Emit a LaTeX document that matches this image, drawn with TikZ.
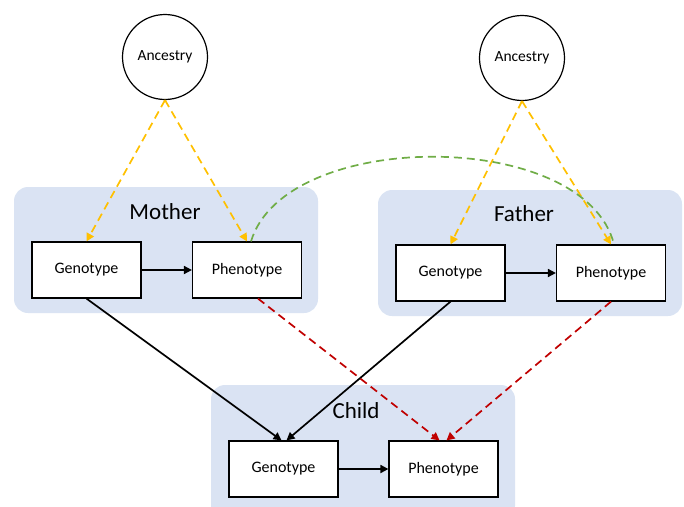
\documentclass[tikz,border=0pt]{standalone}
\usepackage{fontspec}
\setmainfont{Carlito}
\usetikzlibrary{arrows.meta}
\definecolor{panelblue}{HTML}{DAE3F3}
\definecolor{ayellow}{HTML}{FFC000}
\definecolor{agreen}{HTML}{70AD47}
\definecolor{ared}{HTML}{C00000}
\begin{document}
\begin{tikzpicture}[x=1pt,y=-1pt,
  panel/.style={fill=panelblue,draw=none,rounded corners=14pt},
  box/.style={draw=black,fill=white,line width=1.2pt,minimum width=109pt,minimum height=56pt,inner sep=0pt,font=\fontsize{16}{18}\selectfont},
  anc/.style={draw=black,circle,line width=1.2pt,minimum size=85pt,inner sep=0pt,font=\fontsize{15.5}{17}\selectfont},
  ttl/.style={font=\fontsize{23}{26}\selectfont},
  blk/.style={black,line width=1.7pt,-{Triangle[length=8pt,width=8pt]}},
  yel/.style={ayellow,line width=1.7pt,dash pattern=on 8pt off 5pt,-{Triangle[length=8pt,width=8pt]}},
  redd/.style={ared,line width=1.7pt,dash pattern=on 8pt off 5pt,-{Triangle[length=8pt,width=8pt]}},
  grn/.style={agreen,line width=1.7pt,dash pattern=on 8pt off 5pt}]
\useasboundingbox (0,0) rectangle (684,506);
\fill[panel] (14,187) rectangle (318,313);
\fill[panel] (378,190) rectangle (682,316);
\fill[panel] (211,385) rectangle (515,520);
\node[ttl] (tm) at (165,212) {Mother};
\node[ttl] (tf) at (524,214) {Father};
\node[ttl] (tc) at (356,411) {Child};
\node[anc] (am) at (165,57) {Ancestry};
\node[anc] (af) at (522,58) {Ancestry};
\node[box] (mg) at (86.5,270) {Genotype};
\node[box] (mp) at (247,270) {Phenotype};
\node[box] (fg) at (450.5,273) {Genotype};
\node[box] (fp) at (611,273) {Phenotype};
\node[box] (cg) at (283.5,469) {Genotype};
\node[box] (cp) at (443.5,469) {Phenotype};
\draw[blk] (mg) -- (mp);
\draw[blk] (fg) -- (fp);
\draw[blk] (cg) -- (cp);
\draw[yel] (am.south) -- (mg.north);
\draw[yel] (am.south) -- (mp.north);
\draw[yel] (af.south) -- (fg.north);
\draw[yel] (af.south) -- (fp.north);
\draw[grn] ([xshift=4pt]mp.north) .. controls (285,128) and (585,128) .. ([xshift=3pt]fp.north);
\draw[blk] (mg.south) -- ([xshift=-2pt]cg.north);
\draw[blk] (fg.south) -- ([xshift=3pt]cg.north);
\draw[redd] ([xshift=11pt]mp.south) -- ([xshift=-4pt]cp.north);
\draw[redd] (fp.south) -- ([xshift=3pt]cp.north);
\end{tikzpicture}
\end{document}
